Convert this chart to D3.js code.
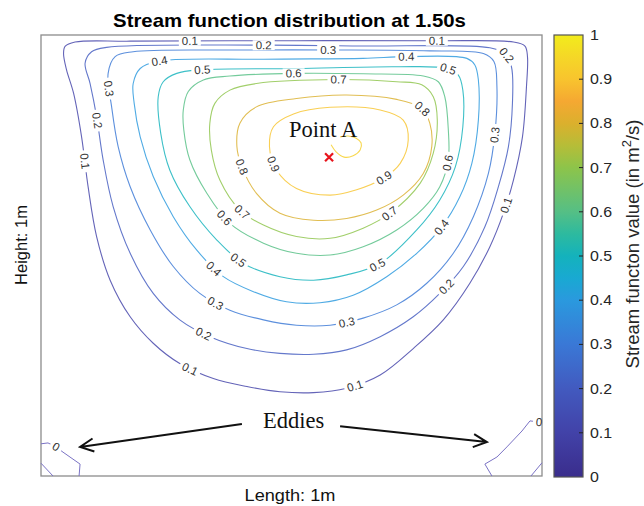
<!DOCTYPE html>
<html><head><meta charset="utf-8">
<script src="https://cdn.jsdelivr.net/npm/d3@7"></script>
<style>html,body{margin:0;padding:0;background:#fff;} svg{display:block;}</style>
</head><body><svg id="chart" width="644" height="506"></svg>
<script>
// ---------- data (stream function, unit square cavity 1m x 1m) ----------
const titleText = "Stream function distribution at 1.50s";
const xLabel = "Length: 1m";
const yLabel = "Height: 1m";
const contourLevels = [0.1, 0.2, 0.3, 0.4, 0.5, 0.6, 0.7, 0.8, 0.9];
const colorTicks = [0, 0.1, 0.2, 0.3, 0.4, 0.5, 0.6, 0.7, 0.8, 0.9, 1];
const colorTickLabels = ["0", "0.1", "0.2", "0.3", "0.4", "0.5", "0.6", "0.7", "0.8", "0.9", "1"];
const colormapStops = [
  [0.00, "#3a2d8c"], [0.10, "#4242a8"], [0.20, "#425abf"], [0.30, "#3a78d6"],
  [0.40, "#2a99de"], [0.45, "#19a9d2"], [0.50, "#14b2bc"], [0.55, "#2dba9f"],
  [0.60, "#55bf85"], [0.70, "#8dc44a"], [0.75, "#b6bd38"], [0.80, "#dbb02d"],
  [0.85, "#f5a832"], [0.90, "#f8c42e"], [0.95, "#f5d727"], [1.00, "#f2ec1c"]
];
// contour lines (x, y in m)
const psi01 = [[0.045,0.958],[0.048,0.974],[0.068,0.984],[0.178,0.986],[0.510,0.987],[0.790,0.987],[0.943,0.984],[0.966,0.975],[0.971,0.951],[0.969,0.883],[0.961,0.769],[0.943,0.671],[0.923,0.596],[0.896,0.520],[0.856,0.437],[0.803,0.354],[0.743,0.289],[0.677,0.229],[0.610,0.199],[0.544,0.189],[0.477,0.191],[0.411,0.203],[0.344,0.221],[0.277,0.255],[0.224,0.301],[0.178,0.361],[0.138,0.444],[0.111,0.543],[0.094,0.656],[0.081,0.769],[0.065,0.868],[0.051,0.921]];
const psi02 = [[0.088,0.936],[0.101,0.962],[0.131,0.972],[0.444,0.977],[0.643,0.975],[0.896,0.971],[0.926,0.958],[0.939,0.928],[0.941,0.845],[0.933,0.747],[0.913,0.656],[0.886,0.565],[0.843,0.475],[0.796,0.414],[0.743,0.361],[0.677,0.316],[0.610,0.286],[0.544,0.276],[0.477,0.278],[0.411,0.289],[0.337,0.316],[0.277,0.354],[0.224,0.414],[0.178,0.505],[0.144,0.611],[0.124,0.717],[0.111,0.815],[0.098,0.890]];
const psi03 = [[0.134,0.913],[0.148,0.951],[0.184,0.962],[0.377,0.966],[0.577,0.966],[0.776,0.964],[0.883,0.958],[0.904,0.940],[0.910,0.883],[0.906,0.777],[0.893,0.686],[0.863,0.588],[0.823,0.505],[0.770,0.437],[0.710,0.388],[0.643,0.358],[0.577,0.342],[0.510,0.342],[0.444,0.354],[0.377,0.376],[0.317,0.414],[0.264,0.475],[0.218,0.558],[0.178,0.656],[0.154,0.747],[0.141,0.837]];
const psi04 = [[0.184,0.890],[0.198,0.924],[0.231,0.940],[0.444,0.945],[0.643,0.947],[0.730,0.951],[0.850,0.947],[0.866,0.932],[0.873,0.898],[0.873,0.807],[0.860,0.709],[0.836,0.633],[0.800,0.565],[0.750,0.505],[0.690,0.452],[0.623,0.410],[0.557,0.393],[0.490,0.395],[0.424,0.418],[0.364,0.452],[0.311,0.512],[0.264,0.588],[0.224,0.679],[0.198,0.769],[0.186,0.845]];
const psi05 = [[0.234,0.860],[0.244,0.894],[0.271,0.913],[0.321,0.921],[0.510,0.924],[0.710,0.928],[0.810,0.924],[0.833,0.909],[0.842,0.875],[0.842,0.792],[0.827,0.701],[0.796,0.626],[0.750,0.558],[0.677,0.482],[0.610,0.456],[0.544,0.444],[0.477,0.452],[0.404,0.482],[0.351,0.535],[0.297,0.611],[0.257,0.694],[0.239,0.777]];
const psi06 = [[0.284,0.830],[0.294,0.872],[0.324,0.898],[0.377,0.907],[0.504,0.913],[0.643,0.912],[0.763,0.907],[0.793,0.894],[0.806,0.860],[0.813,0.785],[0.813,0.717],[0.796,0.656],[0.763,0.607],[0.710,0.558],[0.643,0.520],[0.577,0.501],[0.510,0.505],[0.444,0.528],[0.377,0.573],[0.331,0.641],[0.297,0.717],[0.285,0.785]];
const psi07 = [[0.337,0.800],[0.347,0.845],[0.377,0.875],[0.430,0.890],[0.593,0.899],[0.710,0.894],[0.760,0.887],[0.783,0.860],[0.791,0.807],[0.783,0.732],[0.757,0.664],[0.697,0.596],[0.643,0.562],[0.577,0.539],[0.510,0.543],[0.444,0.569],[0.397,0.603],[0.357,0.671],[0.340,0.739]];
const psi08 = [[0.391,0.747],[0.397,0.800],[0.430,0.837],[0.510,0.856],[0.610,0.864],[0.710,0.854],[0.760,0.834],[0.776,0.800],[0.780,0.747],[0.763,0.686],[0.723,0.637],[0.670,0.603],[0.610,0.584],[0.544,0.580],[0.477,0.596],[0.430,0.641],[0.401,0.701]];
const psi09 = [[0.456,0.747],[0.464,0.792],[0.504,0.821],[0.577,0.836],[0.677,0.830],[0.723,0.807],[0.733,0.762],[0.717,0.709],[0.683,0.675],[0.630,0.649],[0.577,0.637],[0.510,0.652],[0.470,0.694]];
const psiCore = [[0.579,0.751],[0.589,0.735],[0.605,0.723],[0.623,0.726],[0.637,0.739],[0.639,0.755],[0.629,0.766],[0.613,0.771],[0.597,0.769]];
const eddyLeft = [[0.000,0.073],[0.014,0.075],[0.030,0.066],[0.044,0.054],[0.078,0.027],[0.076,0.000]];
const eddyLeftCorner = [[0.000,0.029],[0.024,0.000]];
const eddyRight = [[0.900,0.000],[0.886,0.027],[0.910,0.043],[0.930,0.066],[0.960,0.102],[0.976,0.125],[0.996,0.122],[1.000,0.122]];
const eddyRightCorner = [[1.000,0.030],[0.978,0.000]];
// contour label positions [level, x, y]
const labelSpots = [
  [0.1,0.297,0.987],[0.1,0.790,0.987],[0.1,0.923,0.615],[0.1,0.627,0.203],[0.1,0.294,0.233],[0.1,0.085,0.713],
  [0.2,0.444,0.977],[0.2,0.929,0.955],[0.2,0.803,0.437],[0.2,0.324,0.320],[0.2,0.114,0.807],
  [0.3,0.574,0.966],[0.3,0.903,0.773],[0.3,0.610,0.350],[0.3,0.344,0.384],[0.3,0.134,0.879],
  [0.4,0.238,0.936],[0.4,0.730,0.952],[0.4,0.800,0.565],[0.4,0.337,0.460],
  [0.5,0.321,0.922],[0.5,0.813,0.924],[0.5,0.673,0.478],[0.5,0.391,0.486],
  [0.6,0.504,0.919],[0.6,0.816,0.709],[0.6,0.361,0.580],
  [0.7,0.593,0.902],[0.7,0.697,0.592],[0.7,0.404,0.603],
  [0.8,0.763,0.834],[0.8,0.401,0.701],
  [0.9,0.467,0.709],[0.9,0.680,0.683]
];
const eddyLabelSpots = [[0.032,0.068],[0.994,0.113]];
// annotations
const pointA = [0.575, 0.723];
const pointALabelPos = [0.495, 0.769];
const eddiesLabelPos = [0.443, 0.109];
const arrowLeft = [[0.401,0.118],[0.078,0.066]];
const arrowRight = [[0.597,0.113],[0.890,0.077]];

// ---------- drawing ----------
const svg = d3.select("#chart");
const W = 644, H = 506;
const x = d3.scaleLinear([0, 1], [41, 542]);
const y = d3.scaleLinear([0, 1], [476, 35]);
const cy = d3.scaleLinear([0, 1], [477, 35]);
const color = d3.scaleLinear().domain(colormapStops.map(s => s[0])).range(colormapStops.map(s => s[1]));
const lineColor = v => d3.interpolateRgb(color(v), "#ffffff")(0.18);
const SANS = "'Liberation Sans', Arial, sans-serif";
const SERIF = "'Liberation Serif', 'Times New Roman', serif";

function stretch(sel, k) {
  sel.each(function () {
    const L = this.getComputedTextLength();
    this.setAttribute("textLength", L * k);
    this.setAttribute("lengthAdjust", "spacingAndGlyphs");
  });
}

const defs = svg.append("defs");
const grad = defs.append("linearGradient").attr("id", "cmap")
  .attr("x1", 0).attr("y1", 1).attr("x2", 0).attr("y2", 0);
grad.selectAll("stop").data(colormapStops).join("stop")
  .attr("offset", d => d[0]).attr("stop-color", d => d[1]);
const mask = defs.append("mask").attr("id", "gaps").attr("maskUnits", "userSpaceOnUse")
  .attr("x", 0).attr("y", 0).attr("width", W).attr("height", H);
mask.append("rect").attr("width", W).attr("height", H).attr("fill", "#fff");

// title
svg.append("text").attr("x", 289.5).attr("y", 27).attr("text-anchor", "middle")
  .attr("font-family", SANS).attr("font-weight", "bold").attr("font-size", 18.5)
  .attr("fill", "#000").text(titleText).call(stretch, 1.1);

// plot frame
svg.append("rect").attr("x", x(0)).attr("y", y(1)).attr("width", x(1) - x(0)).attr("height", y(0) - y(1))
  .attr("fill", "#fff").attr("stroke", "#8c8c8c").attr("stroke-width", 1.3);

// contours
const smooth = d3.line().x(d => x(d[0])).y(d => y(d[1])).curve(d3.curveCatmullRomClosed.alpha(0.5));
const openSmooth = d3.line().x(d => x(d[0])).y(d => y(d[1])).curve(d3.curveCatmullRom.alpha(0.5));
const poly = d3.line().x(d => x(d[0])).y(d => y(d[1]));
const gC = svg.append("g").attr("mask", "url(#gaps)").attr("fill", "none").attr("stroke-width", 1.1);
const contourData = [psi01, psi02, psi03, psi04, psi05, psi06, psi07, psi08, psi09];
const pathNodes = {};
contourData.forEach((pts, i) => {
  const lv = contourLevels[i];
  const p = gC.append("path").attr("d", smooth(pts)).attr("stroke", lineColor(lv));
  pathNodes[lv] = p.node();
});
gC.append("path").attr("d", openSmooth(psiCore)).attr("stroke", lineColor(0.93));
const eddyPaths = [eddyLeft, eddyLeftCorner, eddyRight, eddyRightCorner].map(pts =>
  gC.append("path").attr("d", poly(pts)).attr("stroke", "#7a72c4").attr("stroke-width", 1).node());

function nearestOnPath(node, px, py) {
  const L = node.getTotalLength();
  let best = 0, bd = Infinity;
  for (let s = 0; s <= L; s += 1) {
    const p = node.getPointAtLength(s);
    const d = (p.x - px) ** 2 + (p.y - py) ** 2;
    if (d < bd) { bd = d; best = s; }
  }
  const p = node.getPointAtLength(best);
  const a = node.getPointAtLength(Math.max(0, best - 4));
  const b = node.getPointAtLength(Math.min(L, best + 4));
  let ang = Math.atan2(b.y - a.y, b.x - a.x) * 180 / Math.PI;
  if (ang > 90) ang -= 180;
  if (ang <= -90) ang += 180;
  return { x: p.x, y: p.y, ang };
}

const gL = svg.append("g").attr("font-family", SANS).attr("font-size", 11.5).attr("fill", "#333")
  .attr("text-anchor", "middle").attr("dominant-baseline", "central");
function placeLabel(node, lx, ly, txt) {
  const pos = nearestOnPath(node, x(lx), y(ly));
  const t = gL.append("text").attr("transform", `translate(${pos.x},${pos.y}) rotate(${pos.ang})`).text(txt);
  const w = t.node().getComputedTextLength() + 6;
  mask.append("rect").attr("x", -w / 2).attr("y", -5).attr("width", w).attr("height", 10)
    .attr("fill", "#000").attr("transform", `translate(${pos.x},${pos.y}) rotate(${pos.ang})`);
}
labelSpots.forEach(([lv, lx, ly]) => placeLabel(pathNodes[lv], lx, ly, String(lv)));
placeLabel(eddyPaths[0], eddyLabelSpots[0][0], eddyLabelSpots[0][1], "0");
placeLabel(eddyPaths[2], eddyLabelSpots[1][0], eddyLabelSpots[1][1], "0");

// point A
const ax = x(pointA[0]), ay = y(pointA[1]);
svg.append("path").attr("d", `M${ax - 4},${ay - 4}L${ax + 4},${ay + 4}M${ax - 4},${ay + 4}L${ax + 4},${ay - 4}`)
  .attr("stroke", "#e8141c").attr("stroke-width", 2.2);
svg.append("text").attr("x", x(pointALabelPos[0])).attr("y", y(pointALabelPos[1]))
  .attr("font-family", SERIF).attr("font-size", 22.5).attr("fill", "#111").text("Point A");

// eddies annotation
svg.append("text").attr("x", x(eddiesLabelPos[0])).attr("y", y(eddiesLabelPos[1]))
  .attr("font-family", SERIF).attr("font-size", 22.5).attr("fill", "#111").text("Eddies");
function arrow(seg) {
  const [x0, y0] = [x(seg[0][0]), y(seg[0][1])];
  const [x1, y1] = [x(seg[1][0]), y(seg[1][1])];
  const a = Math.atan2(y1 - y0, x1 - x0), len = 15, spread = 0.45;
  const w1 = [x1 - len * Math.cos(a - spread), y1 - len * Math.sin(a - spread)];
  const w2 = [x1 - len * Math.cos(a + spread), y1 - len * Math.sin(a + spread)];
  svg.append("path").attr("d", `M${x0},${y0}L${x1},${y1}M${w1[0]},${w1[1]}L${x1},${y1}L${w2[0]},${w2[1]}`)
    .attr("fill", "none").attr("stroke", "#111").attr("stroke-width", 2).attr("stroke-linejoin", "miter");
}
arrow(arrowLeft);
arrow(arrowRight);

// axis labels
svg.append("text").attr("x", 290).attr("y", 501).attr("text-anchor", "middle")
  .attr("font-family", SANS).attr("font-size", 16.5).attr("fill", "#111").text(xLabel).call(stretch, 1.1);
svg.append("text").attr("transform", "translate(27,245) rotate(-90)").attr("text-anchor", "middle")
  .attr("font-family", SANS).attr("font-size", 16.5).attr("fill", "#111").text(yLabel);

// colorbar
svg.append("rect").attr("x", 554).attr("y", cy(1)).attr("width", 29).attr("height", cy(0) - cy(1))
  .attr("fill", "url(#cmap)").attr("stroke", "#555").attr("stroke-width", 1.2);
const gT = svg.append("g");
gT.selectAll("line").data(colorTicks.slice(1, -1)).join("line")
  .attr("x1", 579).attr("x2", 583).attr("y1", d => cy(d)).attr("y2", d => cy(d))
  .attr("stroke", "#222").attr("stroke-width", 1);
gT.selectAll("text").data(colorTicks).join("text")
  .attr("x", 590).attr("y", d => cy(d)).attr("dominant-baseline", "central")
  .attr("font-family", SANS).attr("font-size", 14.5).attr("fill", "#262626")
  .text((d, i) => colorTickLabels[i]).call(stretch, 1.1);
const cbl = svg.append("text").attr("transform", "translate(639,244) rotate(-90)").attr("text-anchor", "middle")
  .attr("font-family", SANS).attr("font-size", 18.5).attr("fill", "#262626");
cbl.append("tspan").text("Stream functon value (in m");
cbl.append("tspan").attr("font-size", 13).attr("dy", -8).text("2");
cbl.append("tspan").attr("dy", 8).text("/s)");
</script></body></html>
